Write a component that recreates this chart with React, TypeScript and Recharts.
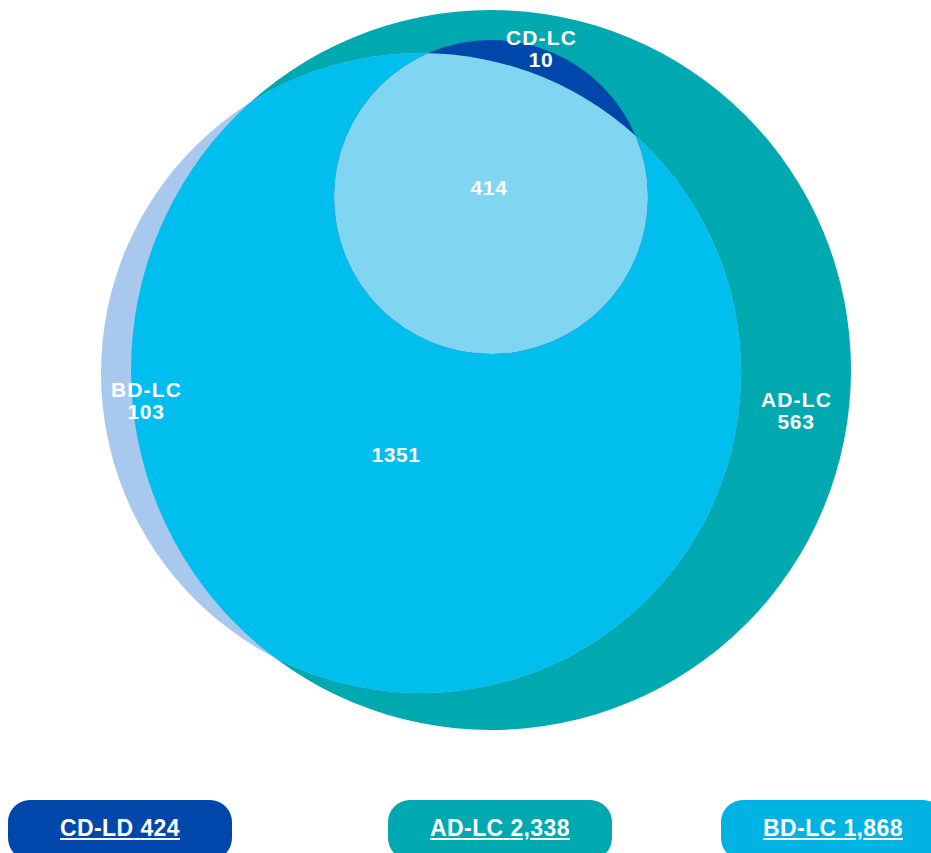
import React from 'react';
import { ScatterChart, Scatter, XAxis, YAxis } from 'recharts';

// Chart box, domain units map 1:1 to pixels
const CHART_W = 931;
const CHART_H = 780;
const X_DOMAIN = [0, 931];
const Y_DOMAIN = [0, 780];

// Sets: centre and radius
const SET_KEYS = ['AD', 'BD', 'CD'];
const CENTER_X = [491, 421, 491];
const CENTER_Y = [370, 373, 197];
const RADIUS = [360, 320, 157];

// Paint layers: which set, fill colour, optional clip by another set
const LAYER_SET = ['AD', 'BD', 'BD', 'CD', 'CD'];
const LAYER_FILL = ['#00A8AF', '#A9C8EE', '#00BEEE', '#0047AB', '#80D6F1'];
const LAYER_CLIP = ['', '', 'AD', '', 'BD'];

// Region labels (y = baseline of the first line)
const REGION_NAMES = ['AD-LC', 'BD-LC', 'CD-LC', '', ''];
const REGION_VALUES = ['563', '103', '10', '414', '1351'];
const REGION_X = [796, 146, 541, 489, 396];
const REGION_Y = [407, 397, 45, 195, 462];

// Legend pills
const LEGEND_NAMES = ['CD-LD', 'AD-LC', 'BD-LC'];
const LEGEND_VALUES = [424, 2338, 1868];
const LEGEND_COLORS = ['#0047AB', '#00A8AF', '#00B3E3'];
const LEGEND_LEFT = [8, 388, 721];

const FONT = 'Helvetica, Arial, "Liberation Sans", sans-serif';
const PX_PER_UNIT = CHART_W / (X_DOMAIN[1] - X_DOMAIN[0]);
const LINE_GAP = 22;

const layers = LAYER_SET.map((s, i) => {
  const k = SET_KEYS.indexOf(s);
  return {
    id: `${s}-${i}`,
    set: s,
    x: CENTER_X[k],
    y: CENTER_Y[k],
    r: RADIUS[k],
    fill: LAYER_FILL[i],
    clip: LAYER_CLIP[i],
  };
});

const labels = REGION_VALUES.map((v, i) => ({
  x: REGION_X[i],
  y: REGION_Y[i],
  name: REGION_NAMES[i],
  value: v,
}));

const CircleShape = (props: any) => {
  const { cx, cy, payload, layerIndex } = props;
  const r = payload.r * PX_PER_UNIT;
  const defineClip = !payload.clip && layerIndex === LAYER_SET.indexOf(payload.set);
  return (
    <g>
      {defineClip && (
        <defs>
          <clipPath id={`clip-${payload.set}`}>
            <circle cx={cx} cy={cy} r={r} />
          </clipPath>
        </defs>
      )}
      <circle
        cx={cx}
        cy={cy}
        r={r}
        fill={payload.fill}
        clipPath={payload.clip ? `url(#clip-${payload.clip})` : undefined}
      />
    </g>
  );
};

const textStyle = { fontFamily: FONT, fontWeight: 700, fontSize: 21, fill: '#fff' };

const LabelShape = (props: any) => {
  const { cx, cy, payload } = props;
  if (!payload.name) {
    return (
      <text x={cx} y={cy} textAnchor="middle" style={{ ...textStyle, letterSpacing: 0.6 }}>
        {payload.value}
      </text>
    );
  }
  return (
    <g>
      <text x={cx + 0.5} y={cy} textAnchor="middle" style={{ ...textStyle, letterSpacing: 1.1 }}>
        {payload.name}
      </text>
      <text x={cx} y={cy + LINE_GAP} textAnchor="middle" style={{ ...textStyle, letterSpacing: 0.6 }}>
        {payload.value}
      </text>
    </g>
  );
};

export default function App() {
  return (
    <div
      style={{
        position: 'absolute',
        left: 0,
        top: 0,
        width: 931,
        height: 853,
        overflow: 'hidden',
        background: '#fff',
      }}
    >
      <ScatterChart
        width={CHART_W}
        height={CHART_H}
        margin={{ top: 0, right: 0, bottom: 0, left: 0 }}
      >
        <XAxis type="number" dataKey="x" domain={X_DOMAIN} hide />
        <YAxis type="number" dataKey="y" domain={Y_DOMAIN} reversed hide />
        {layers.map((l, i) => (
          <Scatter
            key={l.id}
            data={[l]}
            isAnimationActive={false}
            shape={(p: any) => <CircleShape {...p} layerIndex={i} />}
          />
        ))}
        <Scatter data={labels} isAnimationActive={false} shape={LabelShape} />
      </ScatterChart>

      {LEGEND_NAMES.map((name, i) => (
        <div
          key={name}
          style={{
            position: 'absolute',
            left: LEGEND_LEFT[i],
            top: 800,
            width: 224,
            height: 60,
            borderRadius: 22,
            background: LEGEND_COLORS[i],
            color: '#fff',
            fontFamily: FONT,
            fontWeight: 700,
            fontSize: 23,
            letterSpacing: 0.4,
            textAlign: 'center',
          }}
        >
          <div style={{ paddingTop: 17, lineHeight: 1, textDecoration: 'underline' }}>
            {name} {LEGEND_VALUES[i].toLocaleString('en-US')}
          </div>
        </div>
      ))}
    </div>
  );
}
